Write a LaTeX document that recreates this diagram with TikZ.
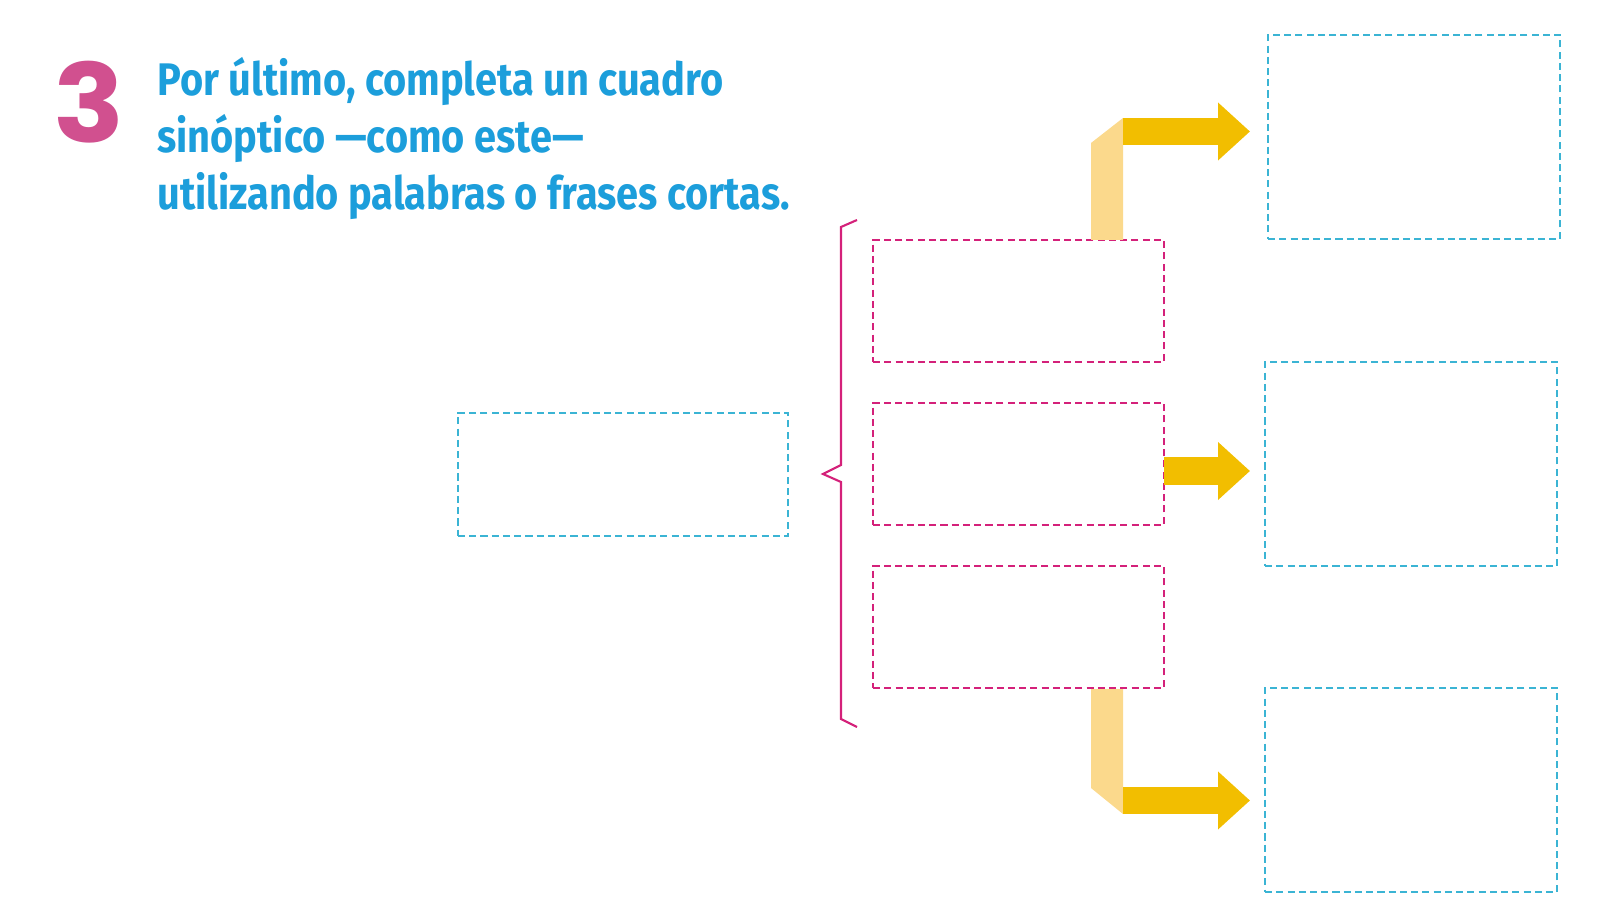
\documentclass[tikz,border=0pt]{standalone}
\usepackage{fontspec}
\usepackage{tikz}
\usetikzlibrary{positioning, arrows.meta}
\newfontfamily\titlefont[FakeStretch=0.87]{Fira Sans}
\newfontfamily\numberfont[FakeStretch=1.08]{Poppins}
\definecolor{titleblue}{HTML}{1C9EDB}
\definecolor{numpink}{HTML}{D1508F}
\definecolor{bracepink}{HTML}{D4217A}
\definecolor{boxcyan}{HTML}{3BB4D4}
\definecolor{ribbondark}{HTML}{F2BE00}
\definecolor{ribbonlight}{HTML}{FBD98C}
\tikzset{
    cyanbox/.style={rectangle, draw=boxcyan, line width=0.6pt, dash pattern=on 4pt off 2.4pt, inner sep=0pt, outer sep=0pt},
    pinkbox/.style={rectangle, draw=bracepink, line width=0.6pt, dash pattern=on 4pt off 2.4pt, inner sep=0pt, outer sep=0pt, minimum width=5.82cm, minimum height=2.44cm},
    ribbon/.style={draw=ribbondark, line width=0.55cm, -{Triangle[length=0.64cm, width=1.12cm]}},
    fold/.style={fill=ribbonlight},
    brace/.style={draw=bracepink, line width=1.2pt, line join=miter}
}
\begin{document}
\begin{tikzpicture}
    \useasboundingbox (0,0) rectangle (32,18.32);

    % Heading
    \node[anchor=base west, inner sep=0pt, text=numpink, font=\numberfont\bfseries\fontsize{62}{62}\selectfont] (num) at (1.06,15.46) {3};
    \node[anchor=base west, inner sep=0pt, align=left, text=titleblue, font=\titlefont\bfseries\fontsize{26}{32.7}\selectfont] (title) at (3.14,14.12) {Por último, completa un cuadro\\sinóptico —como este—\\utilizando palabras o frases cortas.};

    % Main idea
    \node[cyanbox, minimum width=6.6cm, minimum height=2.46cm] (topic) at (12.46,8.83) {};

    % Sub ideas
    \node[pinkbox] (sub2) at (20.37,9.04) {};
    \node[pinkbox, above=0.82cm of sub2] (sub1) {};
    \node[pinkbox, below=0.82cm of sub2] (sub3) {};

    % Details
    \node[cyanbox, minimum width=5.84cm, minimum height=4.08cm, right=2.02cm of sub2] (det2) {};
    \node[cyanbox, minimum width=5.84cm, minimum height=4.08cm, above=2.46cm of det2, xshift=0.06cm] (det1) {};
    \node[cyanbox, minimum width=5.84cm, minimum height=4.08cm, below=2.44cm of det2] (det3) {};

    % Brace
    \draw[brace] (17.14,13.92) -- (16.82,13.78) -- (16.82,9.02) -- (16.46,8.84) -- (16.82,8.68) -- (16.82,3.94) -- (17.14,3.78);

    % Folds
    \fill[fold] (21.82,13.52) -- (22.46,13.52) -- (22.46,15.96) -- (21.82,15.46) -- cycle;
    \fill[fold] (21.82,4.54) -- (22.46,4.54) -- (22.46,2.04) -- (21.82,2.56) -- cycle;
    \coordinate (bend1) at (22.46,15.69);
    \coordinate (bend3) at (22.46,2.31);

    % Arrows
    \draw[ribbon, shorten >=0.36cm] (bend1) -- (bend1 -| det1.west);
    \draw[ribbon, shorten >=0.3cm] ([yshift=-0.14cm]sub2.east) -- ([yshift=-0.14cm]sub2.east -| det2.west);
    \draw[ribbon, shorten >=0.3cm] (bend3) -- (bend3 -| det3.west);
\end{tikzpicture}
\end{document}
